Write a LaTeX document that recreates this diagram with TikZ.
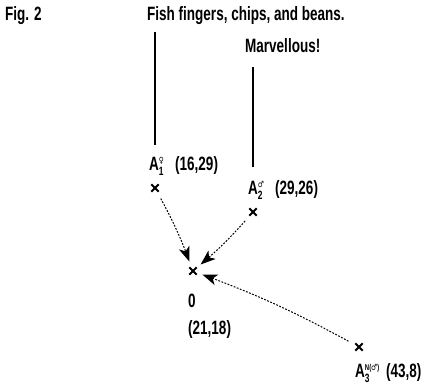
\documentclass[tikz,border=0pt]{standalone}
\usepackage{fontspec}
\setmainfont{Liberation Sans}[FakeStretch=0.70]
\newfontfamily\symfont{DejaVu Sans}[FakeStretch=0.8]
\usetikzlibrary{arrows.meta,shapes.misc}
\newcommand\Alab[2]{A\rlap{\raisebox{-5pt}{\fontsize{12}{12}\selectfont #1}}\raisebox{7pt}{\fontsize{8.5}{8.5}\selectfont #2}}
\begin{document}
\begin{tikzpicture}[x=1pt,y=-1pt,
  txt/.style={anchor=base west,inner sep=0pt,font=\fontsize{19.3}{19.3}\selectfont\bfseries},
  xmark/.style={cross out,draw,line width=1.8pt,minimum size=5.5pt,inner sep=0pt},
  stem/.style={line width=1.5pt},
  arr/.style={-{Stealth[length=15pt,width=11pt,inset=4pt]},line width=1pt,dash pattern=on 1.8pt off 1.5pt,shorten <=12pt,shorten >=10pt}]
\useasboundingbox (0,0) rectangle (438,390);
\node[txt] (fig) at (5,21) {Fig. 2};
\node[txt] (fish) at (147,21) {Fish fingers, chips, and beans.};
\node[txt] (marv) at (245,53) {Marvellous!};
\coordinate (l1t) at (155,32);
\coordinate (l1b) at (155,145);
\coordinate (l2t) at (253,67);
\coordinate (l2b) at (253,167);
\draw[stem] (l1t) -- (l1b);
\draw[stem] (l2t) -- (l2b);
\node[txt] (a1) at (149,170) {\Alab{1}{\symfont ♀}};
\node[txt] (a1c) at (175,170) {(16,29)};
\node[txt] (a2) at (248,194) {\Alab{2}{\symfont ♂}};
\node[txt] (a2c) at (275,194) {(29,26)};
\node[txt] (o0) at (188,307) {0};
\node[txt] (oc) at (188,334) {(21,18)};
\node[txt] (a3) at (355,377) {\Alab{3}{N({\symfont ♂})}};
\node[txt] (a3c) at (386,377) {(43,8)};
\node[xmark] (x1) at (155,188) {};
\node[xmark] (x2) at (253,212) {};
\node[xmark] (xo) at (193,271) {};
\node[xmark] (x3) at (359,347) {};
\draw[arr] (x1.center) to[bend left=4] (xo.center);
\draw[arr] (x2.center) to[bend left=4] (xo.center);
\draw[arr] (x3.center) to[bend right=4] (xo.center);
\end{tikzpicture}
\end{document}
